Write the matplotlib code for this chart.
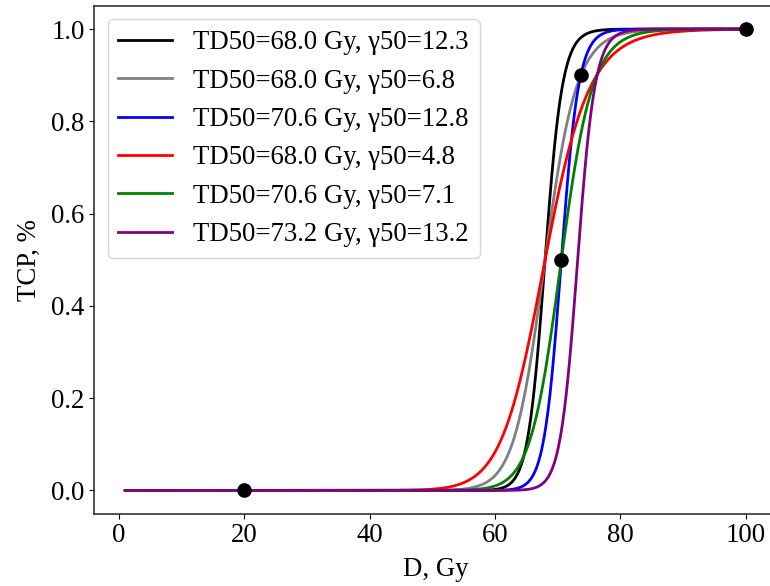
import numpy as np
import matplotlib
matplotlib.use("Agg")
import matplotlib.pyplot as plt

plt.rcParams['font.family'] = ['Liberation Serif', 'DejaVu Serif']
plt.rcParams['mathtext.fontset'] = 'stix'

# Model parameters (from legend)
td50 = [68.0, 68.0, 70.6, 68.0, 70.6, 73.2]
gamma50 = [12.3, 6.8, 12.8, 4.8, 7.1, 13.2]
colors = ['black', 'gray', 'blue', 'red', 'green', 'purple']
labels = ['TD50=68.0 Gy, γ50=12.3', 'TD50=68.0 Gy, γ50=6.8',
          'TD50=70.6 Gy, γ50=12.8', 'TD50=68.0 Gy, γ50=4.8',
          'TD50=70.6 Gy, γ50=7.1', 'TD50=73.2 Gy, γ50=13.2']

# Reference points
pt_d = [20, 70.6, 73.7, 100]
pt_tcp = [0.0, 0.5, 0.9, 1.0]

dose = np.linspace(1, 100, 1000)

W, H = 770, 586
fs = 19.3
fig = plt.figure(figsize=(W / 100, H / 100), dpi=100)
left, right = 94.25, 776.6
top, bottom = 6.0, 513.5
ax = fig.add_axes([left / W, (H - bottom) / H, (right - left) / W, (bottom - top) / H])

for t, g, c, l in zip(td50, gamma50, colors, labels):
    tcp = 1.0 / (1.0 + (t / dose) ** (4 * g))
    ax.plot(dose, tcp, color=c, lw=2, label=l)

ax.plot(pt_d, pt_tcp, 'o', color='black', markersize=9.5, zorder=5)

ax.set_xlabel('D, Gy', fontsize=fs, labelpad=6)
ax.set_ylabel('TCP, %', fontsize=fs, labelpad=7)
ax.tick_params(labelsize=fs)
ax.set_xticks([0, 20, 40, 60, 80, 100])
ax.set_yticks([0.0, 0.2, 0.4, 0.6, 0.8, 1.0])
ax.spines['right'].set_visible(False)
for s in ax.spines.values():
    s.set_color('#333333')
    s.set_linewidth(1.2)
ax.legend(loc='upper left', fontsize=fs)

fig.savefig('out.png', dpi=100)
